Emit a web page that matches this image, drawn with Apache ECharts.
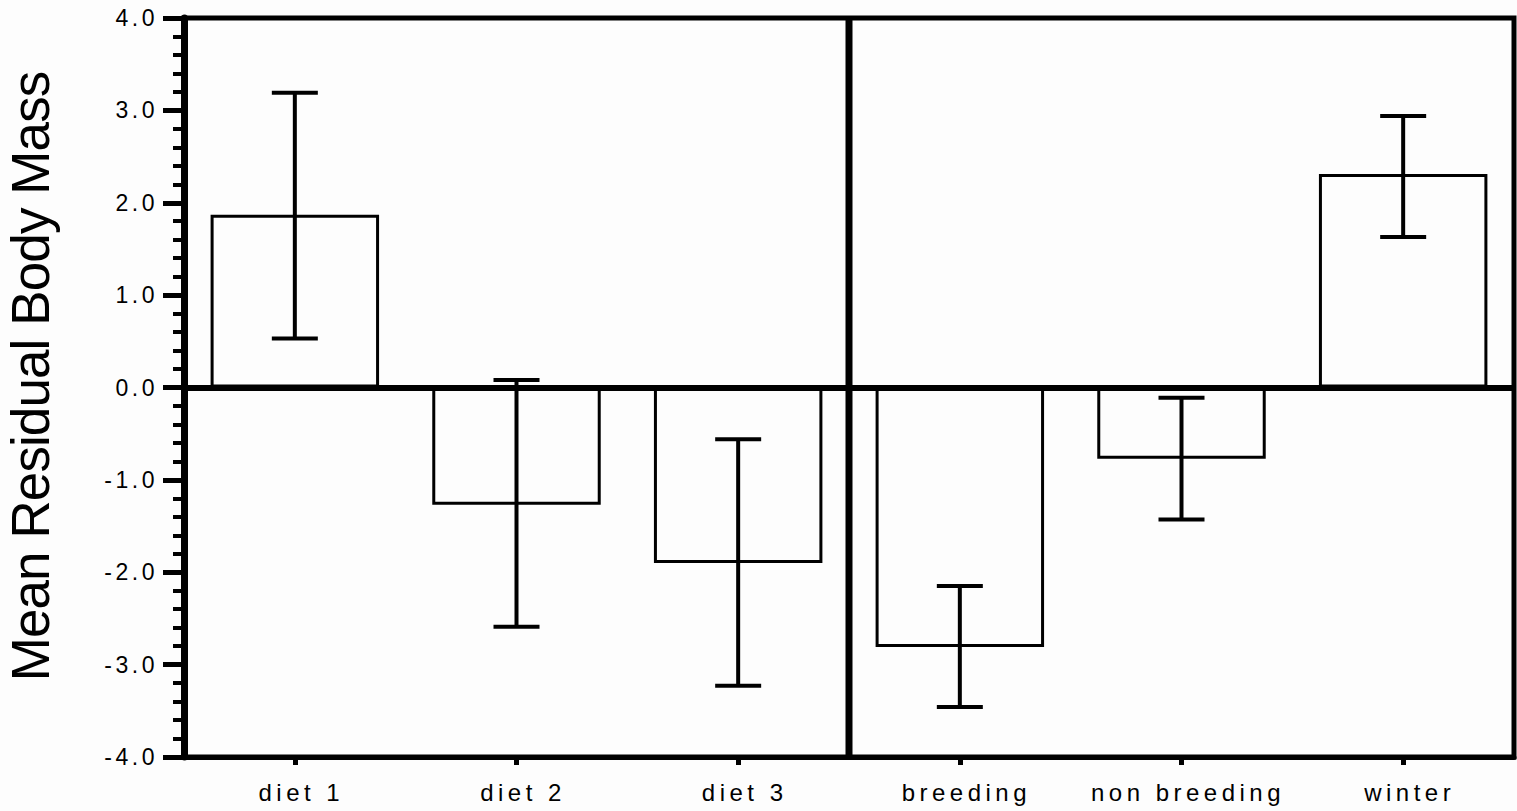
<!DOCTYPE html>
<html>
<head>
<meta charset="utf-8">
<script src="https://cdn.jsdelivr.net/npm/echarts@6/dist/echarts.min.js"></script>
<style>
  html, body { margin: 0; padding: 0; background: #fdfdfd; }
  #chart { width: 1517px; height: 811px; }
  /* tracking on the texts (SVG renderer) */
  #chart text[style*="23px"] { letter-spacing: 3.5px; }
  #chart text[style*="24px"] { letter-spacing: 4.5px; }
  #chart text[style*="53px"] { letter-spacing: -0.9px; }
</style>
</head>
<body>
<div id="chart"></div>
<script>
// groups: three diets, then three seasons
const categories = ['diet 1', 'diet 2', 'diet 3', 'breeding', 'non breeding', 'winter'];
// mean residual body mass per group
const means = [1.87, -1.27, -1.90, -2.81, -0.77, 2.31];
// error bar ends (upper and lower)
const errUpper = [3.19, 0.08, -0.56, -2.15, -0.11, 2.94];
const errLower = [0.53, -2.59, -3.23, -3.46, -1.43, 1.63];
// value axis ticks
const yTicks = [-4, -3, -2, -1, 0, 1, 2, 3, 4];
// the divider sits between the last diet and the first season
const dividerBetween = [2, 3];

const errData = categories.map((c, i) => [i, errUpper[i], errLower[i]]);
const yMin = yTicks[0];
const yMax = yTicks[yTicks.length - 1];

const chart = echarts.init(document.getElementById('chart'), null, { renderer: 'svg' });

chart.setOption({
  backgroundColor: '#fdfdfd',
  animation: false,
  grid: {
    left: 184, right: 3, top: 18, bottom: 54,
    outerBoundsMode: 'none',
    containLabel: false,
    show: true, borderColor: '#000', borderWidth: 5
  },
  xAxis: {
    type: 'category',
    data: categories,
    axisLine: { show: true, onZero: false, lineStyle: { color: '#000', width: 5 } },
    axisTick: { show: true, alignWithLabel: true, length: 8, lineStyle: { color: '#000', width: 5 } },
    axisLabel: { color: '#000', fontSize: 24, fontFamily: 'Liberation Sans', margin: 23, padding: [0, 0, 0, 13] },
    splitLine: { show: false }
  },
  yAxis: {
    type: 'value',
    min: yMin, max: yMax, interval: 1,
    name: 'Mean Residual Body Mass',
    nameLocation: 'middle',
    nameRotate: 90,
    nameGap: 127,
    nameTextStyle: { color: '#000', fontSize: 53, fontFamily: 'Liberation Sans', padding: [0, 0, 0, 22] },
    axisLine: { show: true, lineStyle: { color: '#000', width: 7 } },
    axisTick: { show: true, length: 21, lineStyle: { color: '#000', width: 5 } },
    minorTick: { show: true, splitNumber: 5, length: 11, lineStyle: { color: '#000', width: 4 } },
    splitLine: { show: false },
    axisLabel: {
      color: '#000', fontSize: 23, fontFamily: 'Liberation Sans', margin: 26,
      formatter: (v) => v.toFixed(1)
    }
  },
  series: [
    {
      type: 'bar',
      data: means,
      barCategoryGap: '24%',
      itemStyle: { color: '#fdfdfd', borderColor: '#000', borderWidth: 3 },
      markLine: {
        silent: true,
        symbol: 'none',
        label: { show: false },
        lineStyle: { color: '#000', width: 6, type: 'solid' },
        data: [{ yAxis: 0 }]
      },
      z: 2
    },
    {
      // vertical divider between the two groups of categories
      type: 'custom',
      data: [dividerBetween],
      silent: true,
      z: 4,
      renderItem: (params, api) => {
        const a = api.coord([api.value(0), yMax]);
        const b = api.coord([api.value(1), yMin]);
        const x = (a[0] + b[0]) / 2;
        return {
          type: 'line',
          shape: { x1: x, y1: a[1], x2: x, y2: b[1] },
          style: { stroke: '#000', lineWidth: 7 }
        };
      }
    },
    {
      type: 'custom',
      data: errData,
      encode: { x: 0, y: [1, 2] },
      z: 5,
      renderItem: (params, api) => {
        const hi = api.coord([api.value(0), api.value(1)]);
        const lo = api.coord([api.value(0), api.value(2)]);
        const half = 23;
        const st = { stroke: '#000', lineWidth: 4 };
        return {
          type: 'group',
          children: [
            { type: 'line', shape: { x1: hi[0], y1: hi[1], x2: lo[0], y2: lo[1] }, style: st },
            { type: 'line', shape: { x1: hi[0] - half, y1: hi[1], x2: hi[0] + half, y2: hi[1] }, style: st },
            { type: 'line', shape: { x1: lo[0] - half, y1: lo[1], x2: lo[0] + half, y2: lo[1] }, style: st }
          ]
        };
      }
    }
  ]
});
</script>
</body>
</html>
